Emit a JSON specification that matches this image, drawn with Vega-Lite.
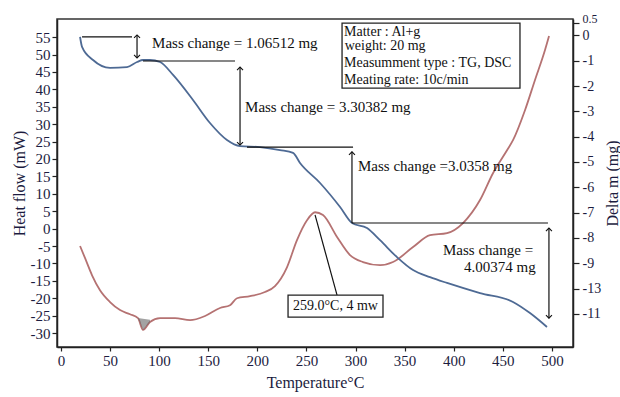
{
  "$schema": "https://vega.github.io/schema/vega-lite/v6.json",
  "width": 516,
  "height": 328,
  "autosize": {"type": "none"},
  "padding": {"left": 57, "top": 19, "right": 47, "bottom": 50},
  "background": "white",
  "config": {
    "font": "Liberation Serif",
    "view": {"stroke": "#333333", "strokeWidth": 1.5},
    "axis": {
      "domainColor": "#222222",
      "domainWidth": 1.5,
      "tickColor": "#222222",
      "tickWidth": 1.2,
      "grid": false,
      "labelFont": "Liberation Serif",
      "titleFont": "Liberation Serif",
      "labelColor": "#1c1c40",
      "titleColor": "#1c1c40",
      "labelFontSize": 15,
      "titleFontSize": 16,
      "titleFontWeight": "normal",
      "labelOverlap": false
    },
    "axisRight": {
      "titleAngle": 270,
      "titleX": 39,
      "titleY": 164,
      "titleAlign": "center",
      "titleBaseline": "middle",
      "labelExpr": "datum.value == -10 ? '-13' : '' + datum.value",
      "labelFontSize": 14,
      "tickSize": 6,
      "labelPadding": 3
    }
  },
  "datasets": {
    "dsc": [
      {"T": 19.5, "H": -5.0}, {"T": 24.6, "H": -8.5}, {"T": 31.7, "H": -13.4}, {"T": 39.8, "H": -17.7},
      {"T": 50.0, "H": -21.1}, {"T": 60.2, "H": -23.4}, {"T": 70.4, "H": -24.6}, {"T": 78.5, "H": -25.7},
      {"T": 83.6, "H": -29.1}, {"T": 90.7, "H": -26.8}, {"T": 100.9, "H": -25.7}, {"T": 116.2, "H": -25.7},
      {"T": 131.5, "H": -26.3}, {"T": 146.8, "H": -25.1}, {"T": 162.0, "H": -22.8}, {"T": 172.2, "H": -22.0},
      {"T": 179.3, "H": -20.0}, {"T": 192.6, "H": -19.4}, {"T": 207.8, "H": -18.2}, {"T": 218.0, "H": -16.5},
      {"T": 230.2, "H": -11.1}, {"T": 240.4, "H": -3.3}, {"T": 250.6, "H": 2.4}, {"T": 258.8, "H": 4.7},
      {"T": 266.9, "H": 3.9}, {"T": 281.2, "H": -2.4}, {"T": 294.4, "H": -7.6}, {"T": 307.6, "H": -9.6},
      {"T": 325.0, "H": -10.5}, {"T": 338.2, "H": -9.6}, {"T": 358.6, "H": -5.3}, {"T": 375.9, "H": -1.9},
      {"T": 393.2, "H": -1.3}, {"T": 409.5, "H": 1.6}, {"T": 426.8, "H": 8.2}, {"T": 440.0, "H": 15.9},
      {"T": 454.3, "H": 22.5}, {"T": 460.4, "H": 25.4}, {"T": 472.6, "H": 34.0}, {"T": 482.8, "H": 42.7},
      {"T": 493.0, "H": 51.3}, {"T": 497.1, "H": 55.3}
    ],
    "hatch": [
      {"T": 78.5, "H": -25.7, "H2": -25.7},
      {"T": 83.6, "H": -29.1, "H2": -25.9},
      {"T": 90.7, "H": -26.8, "H2": -26.2}
    ],
    "tg": [
      {"T": 19.5, "D": -0.06}, {"T": 21.5, "D": -0.45}, {"T": 32.7, "D": -0.97}, {"T": 50.0, "D": -1.28},
      {"T": 67.3, "D": -1.25}, {"T": 77.5, "D": -1.05}, {"T": 83.6, "D": -0.97}, {"T": 90.7, "D": -0.97},
      {"T": 100.9, "D": -1.05}, {"T": 114.2, "D": -1.56}, {"T": 134.5, "D": -2.55}, {"T": 151.8, "D": -3.46},
      {"T": 169.1, "D": -4.13}, {"T": 182.4, "D": -4.37}, {"T": 202.7, "D": -4.41}, {"T": 223.1, "D": -4.53},
      {"T": 236.4, "D": -4.64}, {"T": 243.5, "D": -5.04}, {"T": 263.9, "D": -5.83}, {"T": 284.3, "D": -6.78},
      {"T": 296.4, "D": -7.41}, {"T": 311.7, "D": -7.61}, {"T": 325.0, "D": -8.09}, {"T": 342.3, "D": -8.76},
      {"T": 358.6, "D": -9.27}, {"T": 375.9, "D": -9.55}, {"T": 393.2, "D": -9.78}, {"T": 426.8, "D": -10.18},
      {"T": 460.4, "D": -10.53}, {"T": 477.7, "D": -10.97}, {"T": 495.0, "D": -11.52}
    ],
    "rules": [
      {"x": 21.5, "x2": 72.4, "y": -0.06, "y2": -0.06},
      {"x": 77.5, "x2": 77.5, "y": 0.02, "y2": -0.89},
      {"x": 83.6, "x2": 177.3, "y": -1.01, "y2": -1.01},
      {"x": 182.4, "x2": 182.4, "y": -1.25, "y2": -4.33},
      {"x": 189.5, "x2": 297.5, "y": -4.41, "y2": -4.41},
      {"x": 296.4, "x2": 296.4, "y": -4.6, "y2": -7.41},
      {"x": 296.4, "x2": 496.0, "y": -7.41, "y2": -7.41},
      {"x": 497.0, "x2": 497.0, "y": -7.61, "y2": -11.17},
      {"x": 258.8, "x2": 281.2, "y": -7.09, "y2": -10.26}
    ],
    "arrows": [
      {"x": 77.5, "y": 0.02, "dir": "up"}, {"x": 77.5, "y": -0.89, "dir": "down"},
      {"x": 182.4, "y": -1.25, "dir": "up"}, {"x": 182.4, "y": -4.33, "dir": "down"},
      {"x": 296.4, "y": -4.6, "dir": "up"},
      {"x": 497.0, "y": -7.61, "dir": "up"}, {"x": 497.0, "y": -11.17, "dir": "down"}
    ],
    "boxes": [
      {"x": 231.3, "x2": 328.0, "y": -10.26, "y2": -11.13},
      {"x": 286.3, "x2": 467.5, "y": 0.49, "y2": -2.08}
    ],
    "masstexts": [
      {"x": 92.8, "y": -0.3, "t": "Mass change = 1.06512 mg"},
      {"x": 187.5, "y": -2.83, "t": "Mass change = 3.30382 mg"},
      {"x": 302.5, "y": -5.16, "t": "Mass change =3.0358 mg"},
      {"x": 389.1, "y": -8.48, "t": "Mass change ="},
      {"x": 410.5, "y": -9.15, "t": "4.00374 mg"}
    ],
    "infotexts": [
      {"x": 288.3, "y": 0.15, "t": "Matter : Al+g"},
      {"x": 289.0, "y": -0.43, "t": "weight: 20 mg"},
      {"x": 288.3, "y": -1.07, "t": "Measumment type : TG, DSC"},
      {"x": 288.3, "y": -1.76, "t": "Meating rate: 10c/min"}
    ],
    "peaktext": [
      {"x": 279.6, "y": -10.69, "t": "259.0°C, 4 mw"}
    ]
  },
  "layer": [
    {
      "layer": [
        {
          "data": {"name": "dsc"},
          "mark": {"type": "line", "color": "#b57272", "strokeWidth": 1.8, "interpolate": "monotone"},
          "encoding": {
            "x": {"field": "T", "type": "quantitative", "scale": {"domain": [-4, 521.5], "nice": false, "zero": false},
                  "axis": {"values": [0, 50, 100, 150, 200, 250, 300, 350, 400, 450, 500], "title": "Temperature°C", "tickSize": 4, "labelPadding": 2, "titlePadding": 6}},
            "y": {"field": "H", "type": "quantitative", "scale": {"domain": [-34, 60.2], "nice": false, "zero": false},
                  "axis": {"orient": "left", "title": "Heat flow (mW)", "values": [-30, -25, -20, -15, -10, -5, 0, 5, 10, 15, 20, 25, 30, 35, 40, 45, 50, 55], "labelExpr": "'' + datum.value", "tickSize": 5, "labelPadding": 2, "titlePadding": 3}}
          }
        },
        {
          "data": {"name": "hatch"},
          "mark": {"type": "area", "color": "#666666", "opacity": 0.6},
          "encoding": {
            "x": {"field": "T", "type": "quantitative",
                  "axis": {"values": [0, 50, 100, 150, 200, 250, 300, 350, 400, 450, 500], "title": "Temperature°C", "tickSize": 4, "labelPadding": 2, "titlePadding": 6}},
            "y": {"field": "H", "type": "quantitative",
                  "axis": {"orient": "left", "title": "Heat flow (mW)", "values": [-30, -25, -20, -15, -10, -5, 0, 5, 10, 15, 20, 25, 30, 35, 40, 45, 50, 55], "labelExpr": "'' + datum.value", "tickSize": 5, "labelPadding": 2, "titlePadding": 3}},
            "y2": {"field": "H2"}
          }
        }
      ]
    },
    {
      "layer": [
        {
          "data": {"name": "tg"},
          "mark": {"type": "line", "color": "#4e6a94", "strokeWidth": 1.8, "interpolate": "monotone"},
          "encoding": {
            "x": {"field": "T", "type": "quantitative"},
            "y": {"field": "D", "type": "quantitative", "scale": {"domain": [-12.31, 0.65], "nice": false, "zero": false},
                  "axis": {"orient": "right", "title": "Delta m (mg)", "values": [0.5, 0, -1, -2, -3, -4, -5, -6, -7, -8, -9, -10, -11], "labelBaseline": {"condition": {"test": "datum.value == 0.5", "value": "alphabetic"}, "value": "middle"}, "labelFontSize": {"condition": {"test": "datum.value == 0.5", "value": 12}, "value": 14}}}
          }
        },
        {
          "data": {"name": "rules"},
          "mark": {"type": "rule", "color": "#111111", "strokeWidth": 1.2},
          "encoding": {
            "x": {"field": "x", "type": "quantitative"},
            "x2": {"field": "x2"},
            "y": {"field": "y", "type": "quantitative", "axis": {"orient": "right", "title": "Delta m (mg)", "values": [0.5, 0, -1, -2, -3, -4, -5, -6, -7, -8, -9, -10, -11], "labelBaseline": {"condition": {"test": "datum.value == 0.5", "value": "alphabetic"}, "value": "middle"}, "labelFontSize": {"condition": {"test": "datum.value == 0.5", "value": 12}, "value": 14}}},
            "y2": {"field": "y2"}
          }
        },
        {
          "data": {"name": "arrows"},
          "mark": {"type": "point", "filled": false, "color": "#111111", "strokeWidth": 1.1, "size": 36, "opacity": 1},
          "encoding": {
            "x": {"field": "x", "type": "quantitative"},
            "y": {"field": "y", "type": "quantitative", "axis": {"orient": "right", "title": "Delta m (mg)", "values": [0.5, 0, -1, -2, -3, -4, -5, -6, -7, -8, -9, -10, -11], "labelBaseline": {"condition": {"test": "datum.value == 0.5", "value": "alphabetic"}, "value": "middle"}, "labelFontSize": {"condition": {"test": "datum.value == 0.5", "value": 12}, "value": 14}}},
            "shape": {"field": "dir", "type": "nominal", "legend": null,
                      "scale": {"domain": ["up", "down"], "range": ["M-1,1L0,0L1,1", "M-1,-1L0,0L1,-1"]}}
          }
        },
        {
          "data": {"name": "boxes"},
          "mark": {"type": "rect", "fill": "white", "stroke": "#222222", "strokeWidth": 1.3},
          "encoding": {
            "x": {"field": "x", "type": "quantitative"},
            "x2": {"field": "x2"},
            "y": {"field": "y", "type": "quantitative", "axis": {"orient": "right", "title": "Delta m (mg)", "values": [0.5, 0, -1, -2, -3, -4, -5, -6, -7, -8, -9, -10, -11], "labelBaseline": {"condition": {"test": "datum.value == 0.5", "value": "alphabetic"}, "value": "middle"}, "labelFontSize": {"condition": {"test": "datum.value == 0.5", "value": 12}, "value": 14}}},
            "y2": {"field": "y2"}
          }
        },
        {
          "data": {"name": "masstexts"},
          "mark": {"type": "text", "align": "left", "baseline": "middle", "fontSize": 15, "color": "#111111", "font": "Liberation Serif"},
          "encoding": {
            "x": {"field": "x", "type": "quantitative"},
            "y": {"field": "y", "type": "quantitative", "axis": {"orient": "right", "title": "Delta m (mg)", "values": [0.5, 0, -1, -2, -3, -4, -5, -6, -7, -8, -9, -10, -11], "labelBaseline": {"condition": {"test": "datum.value == 0.5", "value": "alphabetic"}, "value": "middle"}, "labelFontSize": {"condition": {"test": "datum.value == 0.5", "value": 12}, "value": 14}}},
            "text": {"field": "t"}
          }
        },
        {
          "data": {"name": "infotexts"},
          "mark": {"type": "text", "align": "left", "baseline": "middle", "fontSize": 14, "color": "#111111", "font": "Liberation Serif"},
          "encoding": {
            "x": {"field": "x", "type": "quantitative"},
            "y": {"field": "y", "type": "quantitative", "axis": {"orient": "right", "title": "Delta m (mg)", "values": [0.5, 0, -1, -2, -3, -4, -5, -6, -7, -8, -9, -10, -11], "labelBaseline": {"condition": {"test": "datum.value == 0.5", "value": "alphabetic"}, "value": "middle"}, "labelFontSize": {"condition": {"test": "datum.value == 0.5", "value": 12}, "value": 14}}},
            "text": {"field": "t"}
          }
        },
        {
          "data": {"name": "peaktext"},
          "mark": {"type": "text", "align": "center", "baseline": "middle", "fontSize": 14, "color": "#111111", "font": "Liberation Serif"},
          "encoding": {
            "x": {"field": "x", "type": "quantitative"},
            "y": {"field": "y", "type": "quantitative", "axis": {"orient": "right", "title": "Delta m (mg)", "values": [0.5, 0, -1, -2, -3, -4, -5, -6, -7, -8, -9, -10, -11], "labelBaseline": {"condition": {"test": "datum.value == 0.5", "value": "alphabetic"}, "value": "middle"}, "labelFontSize": {"condition": {"test": "datum.value == 0.5", "value": 12}, "value": 14}}},
            "text": {"field": "t"}
          }
        }
      ]
    }
  ],
  "resolve": {"scale": {"y": "independent"}, "axis": {"y": "independent"}}
}
